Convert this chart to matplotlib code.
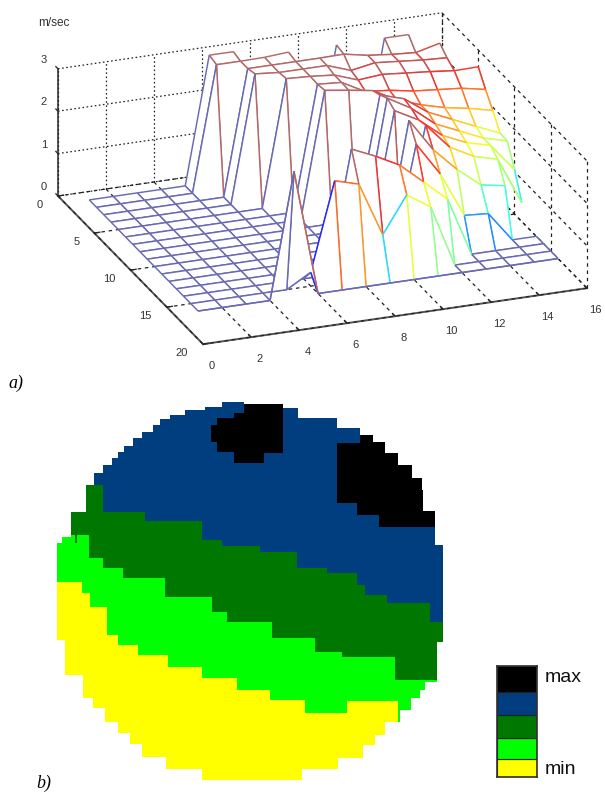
import numpy as np
import matplotlib
matplotlib.use('Agg')
import matplotlib.pyplot as plt
from matplotlib.colors import ListedColormap
from mpl_toolkits.mplot3d import proj3d
from mpl_toolkits.mplot3d.art3d import Poly3DCollection, Line3DCollection

n = np.nan
# ---- surface values (m/sec): rows y=1..16, columns x=1..16
x_nodes = np.arange(1, 17)
y_nodes = np.arange(1, 17)
speed = np.array([
 [0,0,0,0,0,3.00,3.00,n,n,n,n,n,n,n,n,n],
 [0,0,0,0,0,2.95,2.95,2.96,3.00,0,3.00,0,3.00,3.00,n,n],
 [0,0,0,0,0,0,2.95,2.95,2.95,2.95,2.96,2.85,2.79,2.75,2.89,n],
 [0,0,0,0,0,0,3.00,2.95,2.95,2.95,2.75,2.85,2.80,2.75,2.72,n],
 [0,0,0,0,0,0,0,2.98,2.95,2.90,2.70,2.75,2.70,2.65,2.59,2.60],
 [0,0,0,0,0,0,0,0,2.94,2.90,2.60,2.55,2.45,2.40,2.35,2.24],
 [0,0,0,0,0,0,0,0,2.97,2.89,2.80,2.50,2.30,2.15,2.05,1.92],
 [0,0,0,0,0,0,0,0,0,0,2.87,2.70,2.30,2.05,1.80,1.56],
 [0,0,0,0,0,0,0,0,0,0,2.97,2.65,2.20,1.95,1.70,1.55],
 [0,0,0,0,0,0,0,0,0,0,2.85,2.55,2.10,1.85,1.70,1.05],
 [0,0,0,0,0,0,0,0,0,0,0,2.60,2.00,1.70,1.55,0.45],
 [0,0,0,0,0,0,0,0,0,0,2.97,2.20,1.65,1.20,1.10,n],
 [0,0,0,0,0,0,0,0,0,0,2.58,1.80,0.74,0.70,0,0],
 [0,0,0,0,0,0,0,2.89,2.64,2.35,1.87,1.38,0,0,0,0],
 [0,0,0,0,0,0.33,2.40,2.24,0.96,1.82,1.45,0,0,0,0,0],
 [0,0,0,0,2.96,0,0,0,0,0,0,0,0,0,0,0],
])
x_ticks = [0, 2, 4, 6, 8, 10, 12, 14, 16]
y_ticks = [0, 5, 10, 15, 20]
z_ticks = [0, 1, 2, 3]

# ---- map: staircase boundaries of the five speed classes (x start, y value)
top_x = [50,65,92,138,163,190,215,235,252,280,305,340,360,390,435,495,545,612,730,775,890,960,1000,1035,1075,1115,1145,1150,1185,1208]
top_y = [445,425,350,270,235,210,190,170,153,130,110,90,72,60,45,35,22,28,40,70,100,120,140,175,210,250,285,348,450,465]
bot_x = [50,75,128,160,195,235,270,305,378,487,785,895,970,1005,1035,1080,1112,1140,1155,1190]
bot_y = [735,840,910,940,980,1015,1048,1085,1122,1155,1122,1090,1050,1020,980,945,910,885,860,740]
blue_x = [0,163,188,250,315,485,545,660,770,860,950,975,1040,1170]
blue_y = [0,270,350,352,378,435,452,470,520,535,570,600,625,680]
green_x = [0,92,105,110,148,190,250,375,515,560,695,825,905,1065]
green_y = [0,420,445,420,490,520,550,605,650,680,730,770,785,855]
lime_x = [0,125,150,200,235,295,385,485,590,690,795,920,1075]
lime_y = [560,595,635,720,750,780,815,850,885,915,955,918,9999]
blob1_x = [513,530,582,612,672,728]
blob1_top = [90,68,55,28,28,9999]
blob1_bot = [140,170,205,203,175,0]
blob2_x = [892,950,960,1018,1185]
blob2_top = [145,145,120,0,9999]
blob2_bot = [325,360,360,395,0]
map_colors = ['white', '#ffff00', '#00ff00', '#007800', '#003e80', '#000000']

# ---- legend
legend_heights = [18, 20, 23, 22, 26]
legend_colors = ['#ffff00', '#00ff00', '#007800', '#003e80', '#000000']

W, H = 605, 794
fig = plt.figure(figsize=(W/100, H/100), dpi=100, facecolor='white')
plt.rcParams['font.family'] = ['Liberation Sans', 'DejaVu Sans']

# ===== b) map =====
def step(xs, ys, c):
    i = np.searchsorted(xs, c, side='right') - 1
    return np.where(i >= 0, np.array(ys)[np.clip(i, 0, None)], 99999)

columns = np.arange(0, 1260, 1)
rows = np.arange(0, 1185, 1)
cc, rr = np.meshgrid(columns, rows)
grid = np.ones_like(cc)
grid[rr < step(lime_x, lime_y, cc)] = 2
grid[rr < step(green_x, green_y, cc)] = 3
grid[rr < step(blue_x, blue_y, cc)] = 4
b1 = (cc >= blob1_x[0]) & (rr >= step(blob1_x, blob1_top, cc)) & (rr < step(blob1_x, blob1_bot, cc))
b2 = (cc >= blob2_x[0]) & (rr >= step(blob2_x, blob2_top, cc)) & (rr < step(blob2_x, blob2_bot, cc))
grid[b1 | b2] = 5
outside = (cc < 50) | (cc >= 1210) | (rr < step(top_x, top_y, cc)) | (rr >= step(bot_x, bot_y, cc))
grid[outside] = 0
ax_map = fig.add_axes([40/W, 1-790/H, 420/W, 395/H])
ax_map.imshow(grid, cmap=ListedColormap(map_colors), vmin=0, vmax=5, aspect='auto',
              interpolation='nearest', extent=(0, 1260, 1185, 0))
ax_map.axis('off')

# ===== legend =====
ax_leg = fig.add_axes([497/W, 1-777/H, 40/W, 111/H])
bottom = 0
for h, c in zip(legend_heights, legend_colors):
    ax_leg.bar(0.5, h, width=1, bottom=bottom, color=c, edgecolor='#202020', linewidth=0.8)
    bottom += h
ax_leg.set_xlim(0, 1)
ax_leg.set_ylim(0, bottom)
ax_leg.set_xticks([])
ax_leg.set_yticks([])
for s in ax_leg.spines.values():
    s.set_color('#303030')
    s.set_linewidth(1.2)
fig.text(545/W, 1-678/H, 'max', fontsize=14, va='center', ha='left', color='#111111')
fig.text(545/W, 1-770/H, 'min', fontsize=14, va='center', ha='left', color='#111111')

# ===== a) mesh =====
ax = fig.add_axes([0.02, 0.4, 0.9, 0.9*W/H], projection='3d', proj_type='ortho', computed_zorder=False)
ax.patch.set_alpha(0)
ax.view_init(elev=22.7, azim=-110.7)
ax.set_box_aspect((1, 1, 0.336))
ax.set_xlim(0, 16)
ax.set_ylim(20, 0)
ax.set_zlim(0, 3)
ax.set_xticks(x_ticks)
ax.set_yticks(y_ticks)
ax.set_zticks(z_ticks)
ax.set_yticklabels([])
ax.set_zticklabels([])
ax.grid(False)
for a in (ax.xaxis, ax.yaxis, ax.zaxis):
    a.set_pane_color((1, 1, 1, 0))
    a.pane.set_edgecolor((1, 1, 1, 0))
    a.line.set_color('#555555')
    a.line.set_linewidth(1.4)
    a._axinfo['tick']['inward_factor'] = 0
    a._axinfo['tick']['outward_factor'] = 0.18
    a._axinfo['tick']['linewidth'] = {True: 1.0, False: 0.5}
    a._axinfo['tick']['color'] = '#555555'
ax.tick_params(labelsize=8, colors='#333333')
ax.tick_params(axis='x', pad=5)
ax.zaxis._get_tickdir = lambda pos: 1   # z ticks run along the y direction, as in the reference

def screen(x, y, z):
    X, Y, _ = proj3d.proj_transform(x, y, z, ax.get_proj())
    return ax.transData.transform((X, Y))

# fit axes box so the bounding box corners land on the reference's position
size = 0.9 * W
for _ in range(3):
    ax.apply_aspect()
    a = screen(0, 0, 0)
    b = screen(16, 20, 0)
    size *= (587 - 58) / (b[0] - a[0])
    ax.set_position([0.02, 0.4, size / W, size / H])
    ax.apply_aspect()
    a = screen(0, 0, 0)
    l = 0.02 + (58 - a[0]) / W
    bt = 0.4 + ((H - 196) - a[1]) / H
    ax.set_position([l, bt, size / W, size / H])
    ax.apply_aspect()

# y and z tick labels, placed beside the projected tick positions
lab = dict(fontsize=8, color='#333333', va='center', ha='right')
for yt in y_ticks:
    p = screen(0, yt, 0)
    fig.text((p[0] - 15) / W, (p[1] - 9) / H, str(yt), **lab)
for zt in z_ticks:
    p = screen(0, 0, zt)
    fig.text((p[0] - 11) / W, (p[1] + 9) / H, str(zt), **lab)

# dotted wall grid and dashed floor grid
gk = dict(color='#222222', linewidth=0.9, zorder=1)
dots = (0, (1.3, 2.0))
dash = (0, (2.8, 3.0))
for xt in x_ticks:
    ax.plot([xt, xt], [0, 20], [0, 0], linestyle=dash, **gk)
    ax.plot([xt, xt], [0, 0], [0, 3], linestyle=dots, **gk)
for yt in y_ticks:
    ax.plot([0, 16], [yt, yt], [0, 0], linestyle=dash, **gk)
    ax.plot([16, 16], [yt, yt], [0, 3], linestyle=dash, **gk)
for zt in z_ticks:
    ax.plot([0, 16], [0, 0], [zt, zt], linestyle=dots, **gk)
    ax.plot([16, 16], [0, 20], [zt, zt], linestyle=dash, **gk)

# mesh with hidden lines: white faces painted back to front
jet = plt.get_cmap('jet')
def col(v):
    c = np.array(jet(np.clip(v / 2.9, 0, 1))[:3])
    amount = 0.16 + 0.5 * (1 - c.max())
    return tuple(c + amount * (1 - c))

zo = 2
ny, nx = speed.shape
for j in range(ny):
    for i in range(nx - 1, -1, -1):
        segs, cols = [], []
        zv = speed[j, i]
        x0, y0 = x_nodes[i], y_nodes[j]
        if i < nx - 1 and j < ny - 1:
            q = [speed[j, i], speed[j, i+1], speed[j+1, i+1], speed[j+1, i]]
            if np.all(np.isfinite(q)):
                x1, y1 = x_nodes[i+1], y_nodes[j+1]
                face = Poly3DCollection([[(x0, y0, q[0]), (x1, y0, q[1]), (x1, y1, q[2]), (x0, y1, q[3])]],
                                        facecolors='white', edgecolors='none', zorder=zo)
                ax.add_collection3d(face, autolim=False)
                zo += 1
                # front and right edges of the face, coloured by their own start vertex
                segs.append([(x0, y1, q[3]), (x1, y1, q[2])]); cols.append(col(q[3]))
                segs.append([(x1, y0, q[1]), (x1, y1, q[2])]); cols.append(col(q[1]))
        if np.isfinite(zv):
            if i < nx - 1 and np.isfinite(speed[j, i+1]):
                segs.append([(x0, y0, zv), (x_nodes[i+1], y0, speed[j, i+1])]); cols.append(col(zv))
            if j < ny - 1 and np.isfinite(speed[j+1, i]):
                segs.append([(x0, y0, zv), (x0, y_nodes[j+1], speed[j+1, i])]); cols.append(col(zv))
        if segs:
            lc = Line3DCollection(segs, colors=cols, linewidths=1.05, zorder=zo)
            ax.add_collection3d(lc, autolim=False)
            zo += 1

ax.set_xlim(0, 16)
ax.set_ylim(20, 0)
ax.set_zlim(0, 3)

fig.text(38/W, 1-23/H, 'm/sec', fontsize=8.5, va='center', ha='left', color='#333333')
fig.text(8/W, 1-383/H, 'a)', fontsize=13, style='italic', family='Liberation Serif', va='center', ha='left')
fig.text(36/W, 1-783/H, 'b)', fontsize=13, style='italic', family='Liberation Serif', va='center', ha='left')

fig.savefig('out.png', dpi=100, facecolor='white')
